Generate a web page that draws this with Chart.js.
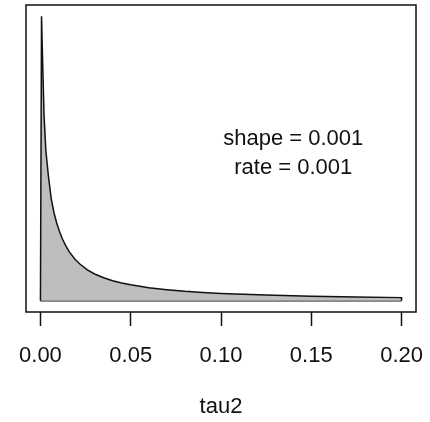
<!DOCTYPE html>
<html>
<head>
<meta charset="utf-8">
<script src="https://cdn.jsdelivr.net/npm/chart.js@4.4.1/dist/chart.umd.min.js"></script>
<style>
    body { margin: 0; background: #fff; }
    #wrap { width: 430px; height: 422px; }
</style>
</head>
<body>
<div id="wrap"><canvas id="myChart"></canvas></div>
<script>
// tau2 values along the curve, and the density
const tauValues = [0, 0.0006, 0.0012, 0.002, 0.003, 0.0044, 0.006, 0.0075, 0.009, 0.0105, 0.012, 0.014, 0.016, 0.019, 0.022, 0.026, 0.03, 0.035, 0.04, 0.045, 0.05, 0.06, 0.07, 0.08, 0.09, 0.1, 0.125, 0.15, 0.175, 0.2, 0.2];
const densityValues = [0, 0.5, 0.421, 0.325, 0.264, 0.2196, 0.1787, 0.1546, 0.1367, 0.1221, 0.1098, 0.0966, 0.0857, 0.0731, 0.064, 0.0541, 0.0469, 0.0402, 0.0351, 0.0309, 0.0278, 0.0225, 0.0192, 0.0163, 0.0142, 0.0125, 0.0097, 0.0079, 0.0065, 0.0053, 0];
const tickValues = [0, 0.05, 0.1, 0.15, 0.2];
const tickLabels = ["0.00", "0.05", "0.10", "0.15", "0.20"];
const annotationLines = ["shape = 0.001", "rate = 0.001"];

const fontName = "'Liberation Sans', Arial, sans-serif";
let chart;

const boxPlugin = {
    id: 'box',
    afterDraw(c)
    {
        const ctx = c.ctx;
        const a = c.chartArea;
        ctx.save();
        ctx.strokeStyle = '#111';
        ctx.lineWidth = 1.5;
        ctx.strokeRect(a.left, a.top, a.right - a.left, a.bottom - a.top);

        // text in the plot
        ctx.fillStyle = '#111';
        ctx.font = "22px " + fontName;
        ctx.textAlign = 'center';
        ctx.textBaseline = 'alphabetic';
        const x = c.scales.x.getPixelForValue(0.14);
        const y0 = c.scales.y.getPixelForValue(0.274);
        annotationLines.forEach((t, i) => ctx.fillText(t, x, y0 + i * 29));
        ctx.restore();
    }
};

function InitializeChart()
{
    chart = new Chart(document.getElementById("myChart"), {
        type: 'line',
        data: {
            datasets: [
                {
                    data: tauValues.map((t, i) => ({ x: t, y: densityValues[i] })),
                    borderColor: '#111',
                    borderWidth: 1.5,
                    backgroundColor: '#bebebe',
                    fill: 'origin',
                    pointRadius: 0,
                    tension: 0
                },
                {
                    data: [{ x: tauValues[0], y: 0 }, { x: tauValues[tauValues.length - 1], y: 0 }],
                    borderColor: '#111',
                    borderWidth: 1.5,
                    fill: false,
                    pointRadius: 0
                }
            ]
        },
        options: {
            responsive: true,
            maintainAspectRatio: false,
            animation: false,
            layout: {
                padding: { left: 26, right: 14, top: 5, bottom: 0 }
            },
            plugins: {
                legend: { display: false },
                tooltip: { enabled: false }
            },
            scales: {
                x: {
                    type: 'linear',
                    min: -0.008,
                    max: 0.208,
                    afterBuildTicks: function (scale)
                    {
                        scale.ticks = tickValues.map(v => ({ value: v }));
                    },
                    afterFit: function (scale)
                    {
                        scale.height = 110;
                        scale.paddingLeft = 0;
                        scale.paddingRight = 0;
                    },
                    border: { display: false },
                    grid: {
                        drawOnChartArea: false,
                        drawTicks: true,
                        tickLength: 14,
                        tickColor: '#111',
                        tickWidth: 1.5
                    },
                    ticks: {
                        autoSkip: false,
                        maxRotation: 0,
                        padding: 17,
                        color: '#111',
                        font: { family: fontName, size: 22 },
                        callback: function (value, index)
                        {
                            return tickLabels[index];
                        }
                    },
                    title: {
                        display: true,
                        text: 'tau2',
                        color: '#111',
                        font: { family: fontName, size: 22 },
                        padding: { top: 0, bottom: 2 }
                    }
                },
                y: {
                    display: false,
                    min: -0.02,
                    max: 0.52
                }
            }
        },
        plugins: [boxPlugin]
    });
}

InitializeChart();
</script>
</body>
</html>
